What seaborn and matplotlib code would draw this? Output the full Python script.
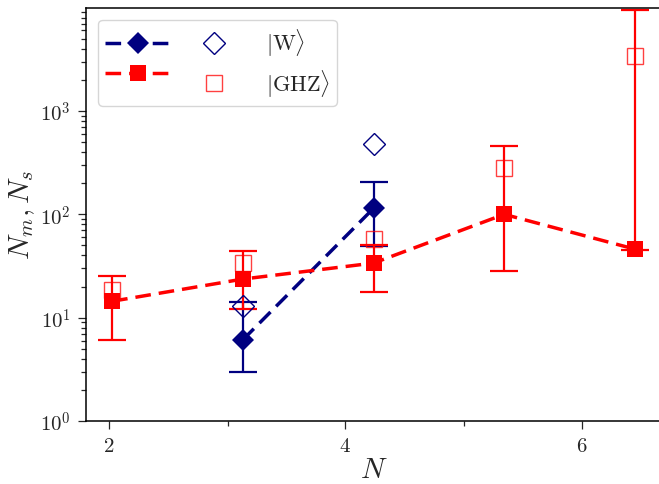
import numpy as np
import pandas as pd
import matplotlib
matplotlib.use("Agg")
import matplotlib.pyplot as plt
from matplotlib.ticker import LogLocator, NullFormatter, FixedLocator
import seaborn as sns

# number of qubits
n_w = [3, 4]
n_ghz = [2, 3, 4, 5, 6]

# |W> state: measured values with lower / upper bounds, and reference values
w_val = [6.1, 114]
w_low = [3.0, 49.6]
w_high = [14.3, 205]
w_ref = [13.0, 480]

# |GHZ> state
ghz_val = [14.4, 23.6, 33.7, 99.8, 46]
ghz_low = [6.1, 12.1, 17.6, 28.2, 45.3]
ghz_high = [25.4, 44, 50, 455, 9500]
ghz_ref = [18.5, 33.7, 58, 282, 3400]

x_tick_labels = ["2", "4", "6"]
y_tick_labels = ["0", "1", "2", "3"]

sns.set_theme(style="ticks")
plt.rcParams["mathtext.fontset"] = "cm"
plt.rcParams["font.family"] = ["DejaVu Serif"]

NAVY = "#000080"
RED = "#ff0000"

fig = plt.figure(figsize=(6.59, 4.85), dpi=100)
ax = fig.add_axes([86 / 659, 63 / 485, (661 - 86) / 659, (422 - 8.5) / 485])

w_df = pd.DataFrame({"N": n_w, "val": w_val})
g_df = pd.DataFrame({"N": n_ghz, "val": ghz_val})

def draw_series(df, low, high, ref, color, marker, ms, ref_ms, ref_alpha):
    vals = np.asarray(df["val"], dtype=float)
    yerr = np.vstack([vals - np.asarray(low), np.asarray(high) - vals])
    ax.errorbar(df["N"], vals, yerr=yerr, fmt="none", ecolor=color,
                elinewidth=1.6, capsize=10, capthick=1.6, zorder=2)
    sns.lineplot(data=df, x="N", y="val", ax=ax, color=color, lw=2.5,
                 marker=marker, markersize=ms, markeredgewidth=0,
                 dashes=(4.5, 2.3), zorder=3, legend=False)
    ax.plot(df["N"], ref, ls="none", marker=marker, markersize=ref_ms,
            markerfacecolor="none", markeredgecolor=color,
            markeredgewidth=1.0, alpha=ref_alpha, zorder=4)

draw_series(w_df, w_low, w_high, w_ref, NAVY, "D", 11, 11, 1.0)
draw_series(g_df, ghz_low, ghz_high, ghz_ref, RED, "s", 11, 11, 0.75)

ax.set_yscale("log")
ax.set_ylim(1, 1e4)
ax.set_xlim(1.80, 6.2)

# axis ticks
ax.xaxis.set_major_locator(FixedLocator([1.977, 3.784, 5.595]))
ax.xaxis.set_minor_locator(FixedLocator([2.885, 4.692]))
ax.set_xticklabels([f"${t}$" for t in x_tick_labels])
ax.set_yticks([1, 10, 100, 1000])
ax.set_yticklabels([f"$10^{{{t}}}$" for t in y_tick_labels])
ax.yaxis.set_minor_locator(LogLocator(base=10, subs=np.arange(2, 10)))
ax.yaxis.set_minor_formatter(NullFormatter())
ax.tick_params(axis="both", which="major", length=6, width=0.9,
               labelsize=15, direction="out", pad=5)
ax.tick_params(axis="both", which="minor", length=3.5, width=0.9,
               direction="out")
for s in ax.spines.values():
    s.set_linewidth(1.1)
    s.set_color("black")

ax.set_xlabel("$N$", fontsize=21, labelpad=0)
ax.set_ylabel("$N_m, N_s$", fontsize=21, labelpad=2)

# legend: filled markers with dashed line, open markers, state label
h_w = plt.Line2D([], [], color=NAVY, lw=2.5, dashes=(4.5, 2.3), marker="D",
                 markersize=11, markeredgewidth=0)
h_g = plt.Line2D([], [], color=RED, lw=2.5, dashes=(4.5, 2.3), marker="s",
                 markersize=11, markeredgewidth=0)
h_w2 = plt.Line2D([], [], ls="none", marker="D", markersize=11,
                  markerfacecolor="none", markeredgecolor=NAVY, markeredgewidth=1.0)
h_g2 = plt.Line2D([], [], ls="none", marker="s", markersize=11,
                  markerfacecolor="none", markeredgecolor=RED, markeredgewidth=1.0,
                  alpha=0.75)
ax.legend([h_w, h_g, h_w2, h_g2],
          ["", "", r"$|\mathrm{W}\rangle$", r"$|\mathrm{GHZ}\rangle$"],
          ncol=2, loc="upper left", fontsize=16, handlelength=3.0,
          handletextpad=0.85, columnspacing=-0.45, labelspacing=0.4,
          borderpad=0.3, borderaxespad=0.55, frameon=True, fancybox=True,
          edgecolor="#cccccc", framealpha=0.8)

fig.savefig("out.png", dpi=100)
